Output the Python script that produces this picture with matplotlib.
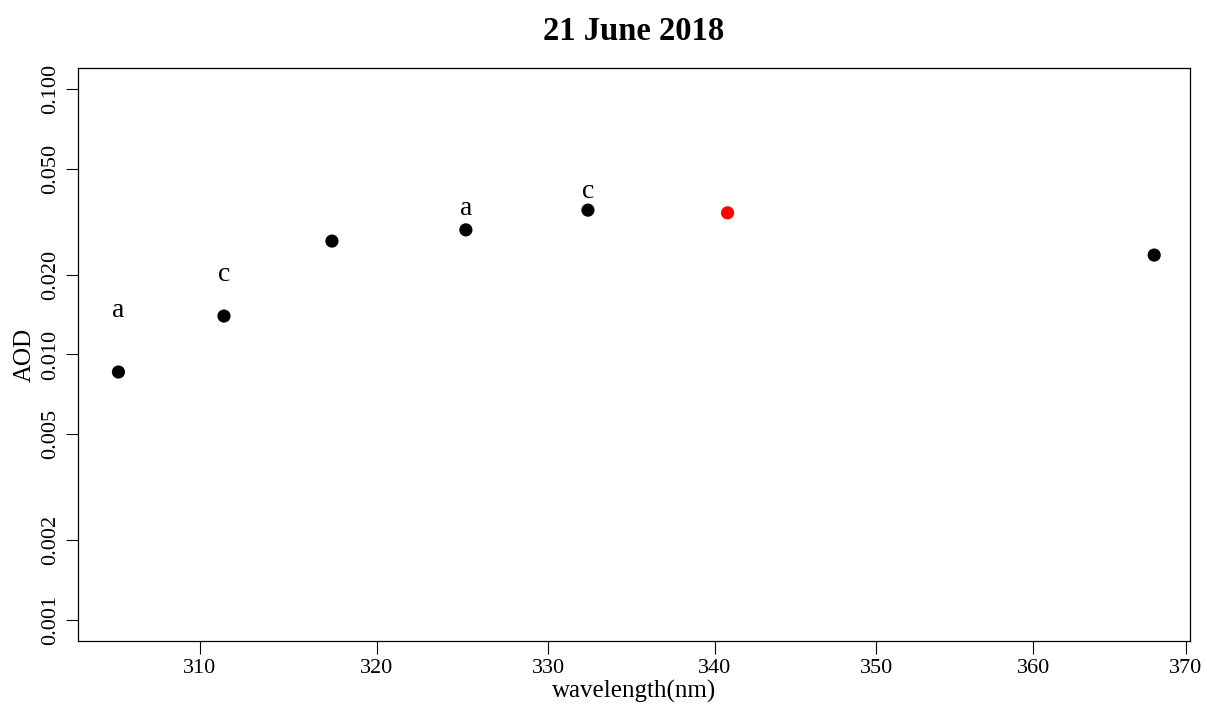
import numpy as np
import matplotlib
matplotlib.use("Agg")
import matplotlib.pyplot as plt
from matplotlib.ticker import NullLocator, FixedLocator, FixedFormatter

plt.rcParams['font.family'] = ['Liberation Serif', 'DejaVu Serif']

# datos
wavelength = [305.51, 311.35, 317.44, 325.16, 332.36, 340.79, 367.9]
aod = [0.00859, 0.01396, 0.02676, 0.0295, 0.0350, 0.0342, 0.0237]
colors = ['black', 'black', 'black', 'black', 'black', 'red', 'black']

label_text = ['a', 'c', 'a', 'c']
label_x = [305.51, 311.35, 325.16, 332.36]
label_y = [0.0147, 0.0201, 0.0356, 0.0413]

xticks = [310, 320, 330, 340, 350, 360, 370]
yticks = [0.001, 0.002, 0.005, 0.010, 0.020, 0.050, 0.100]
ytick_labels = ['0.001', '0.002', '0.005', '0.010', '0.020', '0.050', '0.100']


def ext_log(lo, hi, f=0.04):
    # extensao de 4% estilo R, em escala log
    a, b = np.log10(lo), np.log10(hi)
    d = (b - a) * f
    return 10 ** (a - d), 10 ** (b + d)


fig = plt.figure(figsize=(12.07, 7.08), dpi=100)
ax = fig.add_axes([0.0646, 0.0946, 0.9213, 0.8094])

ax.scatter(wavelength, aod, s=90, c=colors, zorder=3, linewidths=0)
for t, x, y in zip(label_text, label_x, label_y):
    ax.text(x, y, t, ha='center', va='center', fontsize=20)

ax.set_xscale('log')
ax.set_yscale('log')
ax.set_xlim(303.3, 370.27)
ax.set_ylim(*ext_log(0.001, 0.1))

ax.xaxis.set_major_locator(FixedLocator(xticks))
ax.xaxis.set_major_formatter(FixedFormatter([str(v) for v in xticks]))
ax.xaxis.set_minor_locator(NullLocator())
ax.yaxis.set_major_locator(FixedLocator(yticks))
ax.yaxis.set_major_formatter(FixedFormatter(ytick_labels))
ax.yaxis.set_minor_locator(NullLocator())

ax.tick_params(axis='both', direction='out', length=9, width=0.8, labelsize=16, pad=4)
for lab in ax.get_yticklabels():
    lab.set_rotation(90)
    lab.set_va('center')

for sp in ax.spines.values():
    sp.set_linewidth(0.9)

ax.set_xlabel('wavelength(nm)', fontsize=18, labelpad=1)
ax.set_ylabel('AOD', fontsize=18, labelpad=4)
ax.set_title('21 June 2018', fontsize=23.5, fontweight='bold', pad=20)

fig.savefig('out.png', dpi=100)
